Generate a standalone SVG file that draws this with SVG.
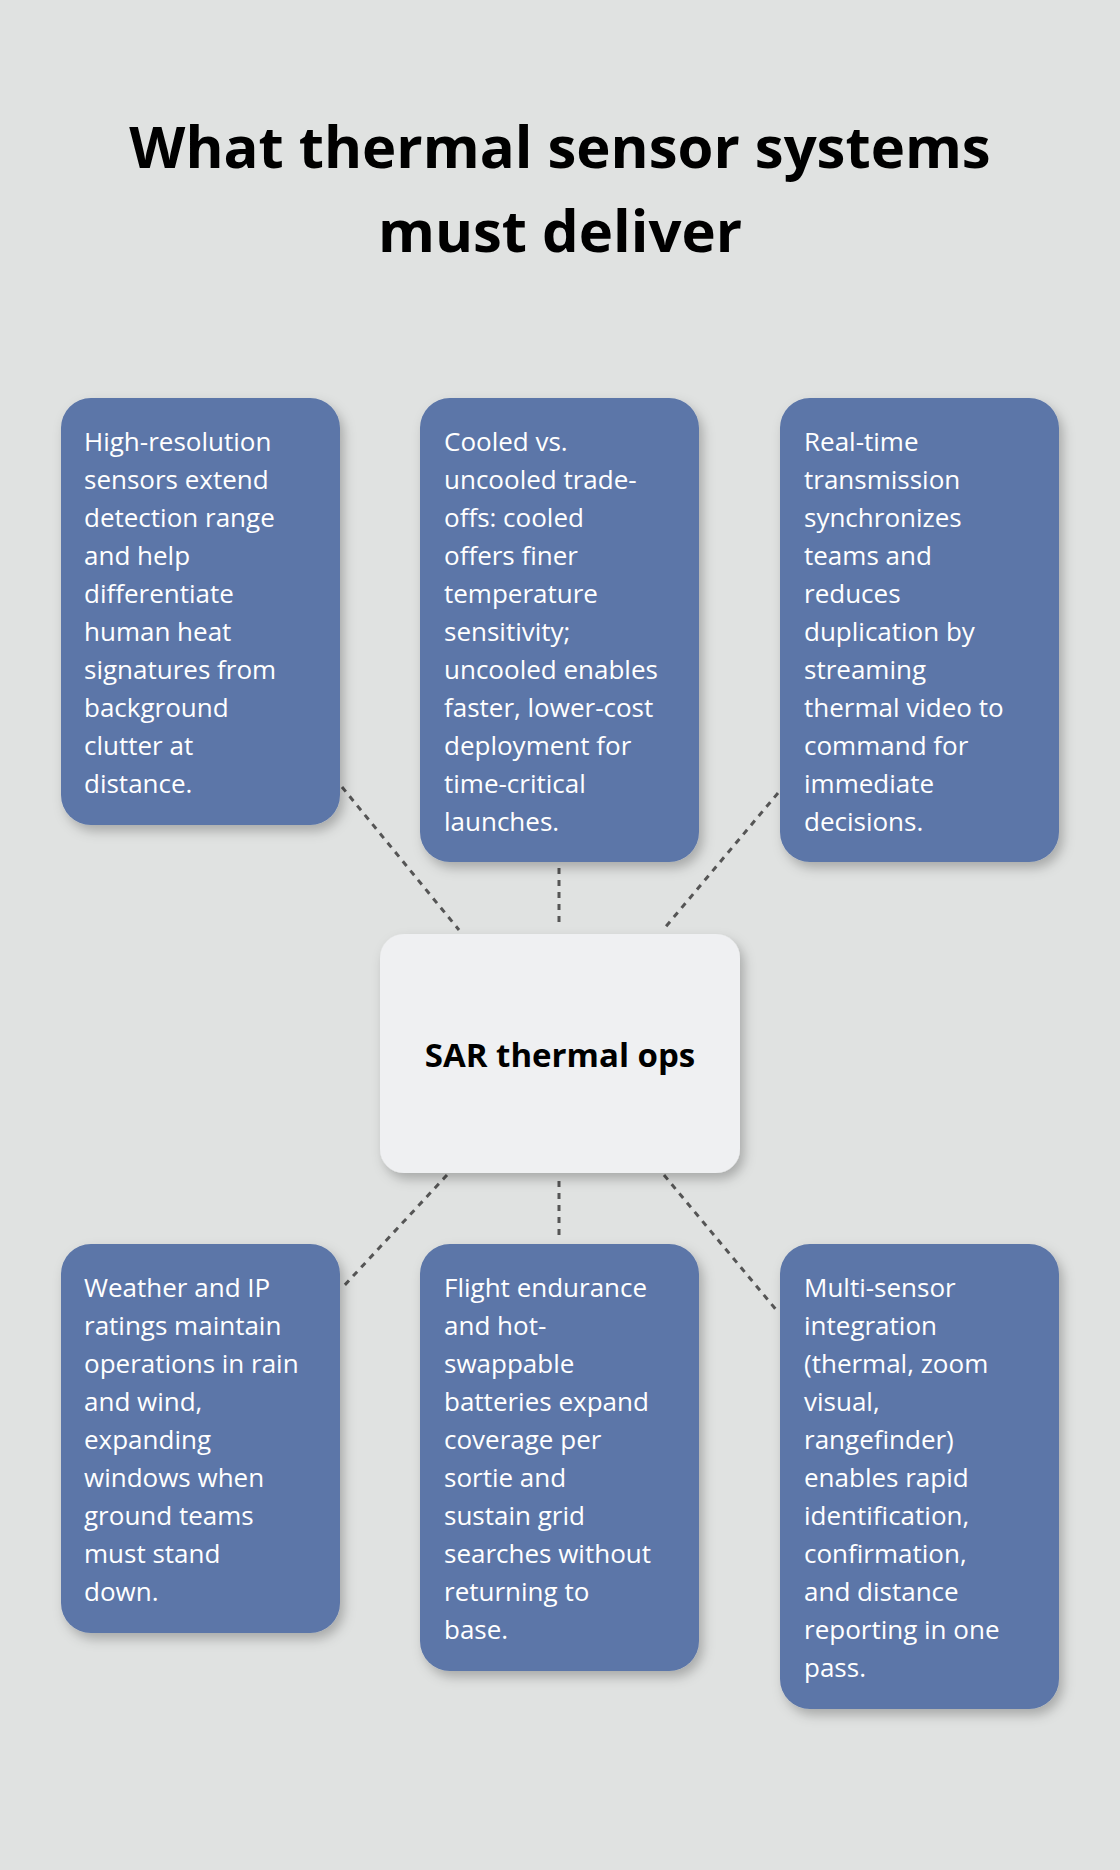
<svg xmlns="http://www.w3.org/2000/svg" width="1120" height="1870" viewBox="0 0 1120 1870">
<style>
.t{font-family:"Open Sans","Noto Sans",sans-serif;font-size:26px;fill:#fff}
.b{fill:#5b76a8}
.c line{stroke:#555;stroke-width:3;stroke-dasharray:6 6}
</style>
<defs><filter id="s" x="-20%" y="-20%" width="140%" height="140%"><feDropShadow dx="4" dy="6" stdDeviation="6" flood-opacity="0.25"/></filter></defs>
<rect width="1120" height="1870" fill="#e0e2e1"/>
<text font-family="'Open Sans','Noto Sans',sans-serif" font-weight="bold" font-size="58" text-anchor="middle" fill="#000"><tspan x="560" y="168">What thermal sensor systems</tspan><tspan x="560" y="252">must deliver</tspan></text>
<g class="c">
<line x1="342" y1="787" x2="459" y2="930"/>
<line x1="559" y1="868" x2="559" y2="928"/>
<line x1="778" y1="793" x2="663" y2="930"/>
<line x1="447" y1="1175" x2="342" y2="1288"/>
<line x1="559" y1="1181" x2="559" y2="1238"/>
<line x1="664" y1="1175" x2="778" y2="1312"/>
</g>
<g id="n1"><rect class="b" x="61" y="398" width="279" height="427" rx="30" filter="url(#s)"/>
<text class="t"><tspan x="84" y="451">High-resolution</tspan><tspan x="84" y="489">sensors extend</tspan><tspan x="84" y="527">detection range</tspan><tspan x="84" y="565">and help</tspan><tspan x="84" y="603">differentiate</tspan><tspan x="84" y="641">human heat</tspan><tspan x="84" y="679">signatures from</tspan><tspan x="84" y="717">background</tspan><tspan x="84" y="755">clutter at</tspan><tspan x="84" y="793">distance.</tspan></text></g>
<g id="n2"><rect class="b" x="420" y="398" width="279" height="464" rx="30" filter="url(#s)"/>
<text class="t"><tspan x="444" y="451">Cooled vs.</tspan><tspan x="444" y="489">uncooled trade-</tspan><tspan x="444" y="527">offs: cooled</tspan><tspan x="444" y="565">offers finer</tspan><tspan x="444" y="603">temperature</tspan><tspan x="444" y="641">sensitivity;</tspan><tspan x="444" y="679">uncooled enables</tspan><tspan x="444" y="717">faster, lower-cost</tspan><tspan x="444" y="755">deployment for</tspan><tspan x="444" y="793">time-critical</tspan><tspan x="444" y="831">launches.</tspan></text></g>
<g id="n3"><rect class="b" x="780" y="398" width="279" height="464" rx="30" filter="url(#s)"/>
<text class="t"><tspan x="804" y="451">Real-time</tspan><tspan x="804" y="489">transmission</tspan><tspan x="804" y="527">synchronizes</tspan><tspan x="804" y="565">teams and</tspan><tspan x="804" y="603">reduces</tspan><tspan x="804" y="641">duplication by</tspan><tspan x="804" y="679">streaming</tspan><tspan x="804" y="717">thermal video to</tspan><tspan x="804" y="755">command for</tspan><tspan x="804" y="793">immediate</tspan><tspan x="804" y="831">decisions.</tspan></text></g>
<g id="center"><rect x="380" y="934" width="360" height="239" rx="24" fill="#eff0f2" filter="url(#s)"/>
<text x="560" y="1067" text-anchor="middle" font-family="'Open Sans','Noto Sans',sans-serif" font-weight="bold" font-size="33" fill="#000">SAR thermal ops</text></g>
<g id="n4"><rect class="b" x="61" y="1244" width="279" height="389" rx="30" filter="url(#s)"/>
<text class="t"><tspan x="84" y="1297">Weather and IP</tspan><tspan x="84" y="1335">ratings maintain</tspan><tspan x="84" y="1373">operations in rain</tspan><tspan x="84" y="1411">and wind,</tspan><tspan x="84" y="1449">expanding</tspan><tspan x="84" y="1487">windows when</tspan><tspan x="84" y="1525">ground teams</tspan><tspan x="84" y="1563">must stand</tspan><tspan x="84" y="1601">down.</tspan></text></g>
<g id="n5"><rect class="b" x="420" y="1244" width="279" height="427" rx="30" filter="url(#s)"/>
<text class="t"><tspan x="444" y="1297">Flight endurance</tspan><tspan x="444" y="1335">and hot-</tspan><tspan x="444" y="1373">swappable</tspan><tspan x="444" y="1411">batteries expand</tspan><tspan x="444" y="1449">coverage per</tspan><tspan x="444" y="1487">sortie and</tspan><tspan x="444" y="1525">sustain grid</tspan><tspan x="444" y="1563">searches without</tspan><tspan x="444" y="1601">returning to</tspan><tspan x="444" y="1639">base.</tspan></text></g>
<g id="n6"><rect class="b" x="780" y="1244" width="279" height="465" rx="30" filter="url(#s)"/>
<text class="t"><tspan x="804" y="1297">Multi-sensor</tspan><tspan x="804" y="1335">integration</tspan><tspan x="804" y="1373">(thermal, zoom</tspan><tspan x="804" y="1411">visual,</tspan><tspan x="804" y="1449">rangefinder)</tspan><tspan x="804" y="1487">enables rapid</tspan><tspan x="804" y="1525">identification,</tspan><tspan x="804" y="1563">confirmation,</tspan><tspan x="804" y="1601">and distance</tspan><tspan x="804" y="1639">reporting in one</tspan><tspan x="804" y="1677">pass.</tspan></text></g>
</svg>
